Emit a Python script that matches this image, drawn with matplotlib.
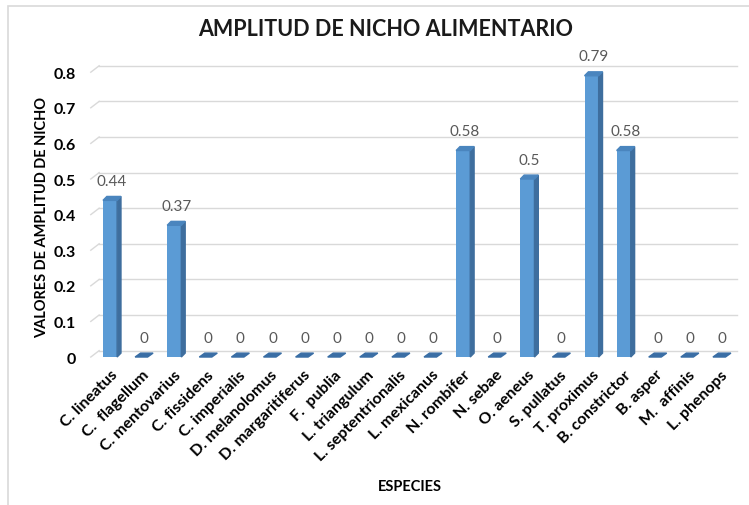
import matplotlib.pyplot as plt
from matplotlib.patches import Polygon, Rectangle

# Datos: amplitud de nicho alimentario por especie
especies = [
    "C. lineatus", "C.  flagellum", "C. mentovarius", "C. fissidens",
    "C. imperialis", "D. melanolomus", "D. margaritiferus", "F.  publia",
    "L. triangulum", "L. septentrionalis", "L. mexicanus", "N. rombifer",
    "N. sebae", "O. aeneus", "S. pullatus", "T. proximus",
    "B. constrictor", "B. asper", "M.  affinis", "L. phenops",
]
valores = [0.44, 0, 0.37, 0, 0, 0, 0, 0, 0, 0, 0, 0.58, 0, 0.5, 0, 0.79,
           0.58, 0, 0, 0]
yticks = [0, 0.1, 0.2, 0.3, 0.4, 0.5, 0.6, 0.7, 0.8]

plt.rcParams["font.family"] = ["Lato", "DejaVu Sans"]

fig = plt.figure(figsize=(7.49, 5.06), dpi=100)
ax = fig.add_axes([0.1268, 0.2885, 0.8572, 0.5929])
ax.set_xlim(-0.47, 19.53)
ax.set_ylim(-0.0056, 0.837)

# borde del área del gráfico
fig.patches.append(Rectangle((8 / 749, -0.1), 1.2, 1 - 7 / 506 + 0.1,
                             transform=fig.transFigure, fill=False,
                             edgecolor="#D9D9D9", lw=1.2))

# efecto 3D: profundidad de las barras y de la pared del fondo
w = 0.44
dx, dy = 0.12, 0.011
gx, gy = 0.26, 0.018

for v in yticks:
    ax.plot([-0.6, -0.6 + gx], [v, v + gy], color="#D9D9D9", lw=1,
            clip_on=False, zorder=0)
    ax.plot([-0.6 + gx, 19.53], [v + gy, v + gy], color="#D9D9D9", lw=1,
            clip_on=False, zorder=0)

frente = "#5B9BD5"
lado = "#3E6E9E"
tapa = "#4A85BE"

for i, v in enumerate(valores):
    x0, x1 = i - w / 2, i + w / 2
    if v > 0:
        ax.bar(i, v, width=w, color=frente, zorder=2)
        ax.add_patch(Polygon([(x1, 0), (x1 + dx, dy), (x1 + dx, v + dy), (x1, v)],
                             closed=True, color=lado, zorder=2))
        ax.add_patch(Polygon([(x0, v), (x1, v), (x1 + dx, v + dy), (x0 + dx, v + dy)],
                             closed=True, color=tapa, zorder=3))
    else:
        ax.add_patch(Polygon([(x0, 0), (x1 - 0.05, 0), (x1 + dx, dy), (x0 + dx + 0.05, dy)],
                             closed=True, color="#3A6EA5", zorder=3))
    ax.annotate(f"{v:g}", (i + dx / 2, v + dy), xytext=(0, 6),
                textcoords="offset points", ha="center", va="bottom",
                fontsize=11, color="#595959")

for s in ax.spines.values():
    s.set_visible(False)

ax.set_yticks(yticks)
ax.set_yticklabels([f"{t:g}" for t in yticks], fontsize=11.5, fontweight="bold")
ax.tick_params(axis="y", length=0, pad=14)
ax.set_xticks(range(len(especies)))
ax.set_xticklabels(especies, rotation=45, ha="right", rotation_mode="anchor",
                   fontsize=11.5, fontweight="bold")
ax.tick_params(axis="x", length=0, pad=6)

fig.text(386 / 749, 1 - 30 / 506, "AMPLITUD DE NICHO ALIMENTARIO",
         ha="center", va="center", fontsize=15.5, fontweight="bold",
         color="#1a1a1a")
fig.text(42 / 749, 1 - 218 / 506, "VALORES DE AMPLITUD DE NICHO",
         ha="center", va="center", rotation=90, fontsize=10.5, fontweight="bold")
fig.text(410 / 749, 1 - 487 / 506, "ESPECIES", ha="center", va="center",
         fontsize=10.5, fontweight="bold")

fig.savefig("out.png", dpi=100)
